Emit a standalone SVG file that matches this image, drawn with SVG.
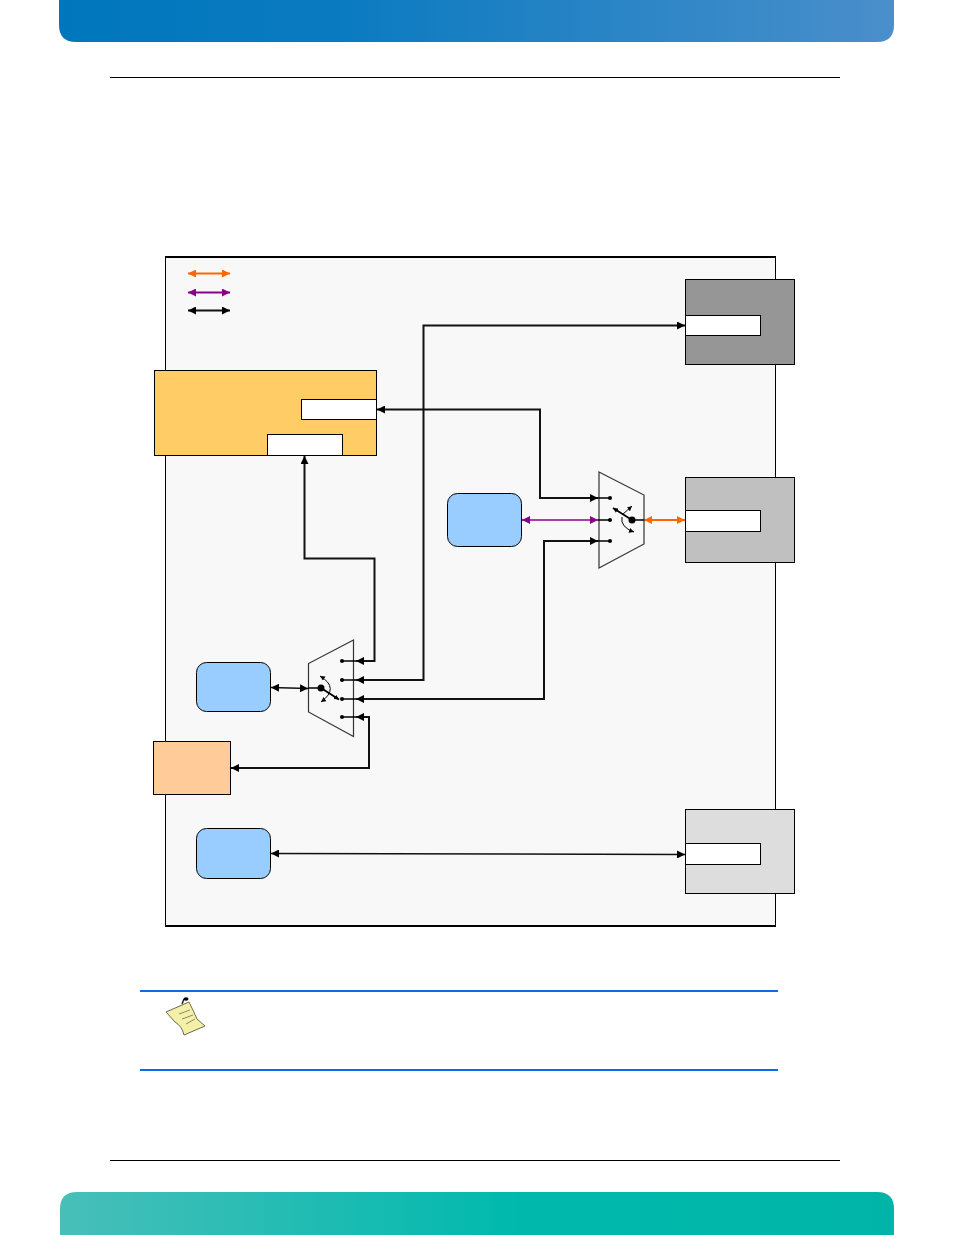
<svg xmlns="http://www.w3.org/2000/svg" width="954" height="1235" viewBox="0 0 954 1235">
<style>
.n{stroke:#000;stroke-width:1}
.w{fill:#fff;stroke:#000;stroke-width:1}
.c{fill:none;stroke:#111;stroke-width:2}
.sw{fill:none;stroke:#333;stroke-width:1.200}
</style>
<defs>
<linearGradient id="hg" x1="0" y1="0" x2="1" y2="0"><stop offset="0" stop-color="#0077bd"/><stop offset=".33" stop-color="#0a7ac0"/><stop offset="1" stop-color="#4a8fcb"/></linearGradient>
<linearGradient id="fg" x1="0" y1="0" x2="1" y2="0"><stop offset="0" stop-color="#48bfb9"/><stop offset=".55" stop-color="#00b9ad"/><stop offset="1" stop-color="#00b5a7"/></linearGradient>
<marker id="ak" viewBox="0 0 8 8" refX="8" refY="4" markerWidth="8" markerHeight="8" markerUnits="userSpaceOnUse" orient="auto-start-reverse"><path d="M0 0L8 4L0 8z" fill="#000"/></marker>
<marker id="ao" viewBox="0 0 8 8" refX="8" refY="4" markerWidth="8" markerHeight="8" markerUnits="userSpaceOnUse" orient="auto-start-reverse"><path d="M0 0L8 4L0 8z" fill="#f60"/></marker>
<marker id="ap" viewBox="0 0 8 8" refX="8" refY="4" markerWidth="8" markerHeight="8" markerUnits="userSpaceOnUse" orient="auto-start-reverse"><path d="M0 0L8 4L0 8z" fill="#808"/></marker>
<marker id="as" viewBox="0 0 6 6" refX="6" refY="3" markerWidth="5" markerHeight="5" markerUnits="userSpaceOnUse" orient="auto-start-reverse"><path d="M0 0L6 3L0 6z" fill="#000"/></marker>
</defs>
<g id="header"><path d="M59 0H894V25Q894 42 877 42H76Q59 42 59 25Z" fill="url(#hg)"/><rect x="110" y="77" width="730" height="1" fill="#000"/></g>
<g id="footer"><rect x="110" y="1160" width="730" height="1" fill="#000"/><path d="M60 1235V1209Q60 1192 77 1192H877Q894 1192 894 1209V1235Z" fill="url(#fg)"/></g>
<g id="board"><rect x="165.500" y="257" width="610" height="669" fill="#f8f8f8" stroke="#000" stroke-width="1"/><path d="M165 257H776M165 926H776" stroke="#000" stroke-width="2"/></g>
<g id="connectors">
<path class="c" d="M685 325.500H423.500V680H356" marker-start="url(#ak)" marker-end="url(#ak)"/>
<path class="c" d="M598 498H540V409.500H377" marker-start="url(#ak)" marker-end="url(#ak)"/>
<path class="c" d="M598 541H544V699H356" marker-start="url(#ak)" marker-end="url(#ak)"/>
<path class="c" d="M356 661H374.500V558.500H304.500V456" marker-start="url(#ak)" marker-end="url(#ak)"/>
<path class="c" d="M356 717H369V768H231" marker-start="url(#ak)" marker-end="url(#ak)"/>
<path d="M271 687.500L308 688.500" fill="none" stroke="#111" stroke-width="1.500" marker-start="url(#ak)" marker-end="url(#ak)"/>
<path d="M271 853.500L685 854.500" fill="none" stroke="#111" stroke-width="1.500" marker-start="url(#ak)" marker-end="url(#ak)"/>
<path d="M522 520H598" fill="none" stroke="#808" stroke-width="1.500" marker-start="url(#ap)" marker-end="url(#ap)"/>
<path d="M644 520H685" fill="none" stroke="#f60" stroke-width="2" marker-start="url(#ao)" marker-end="url(#ao)"/>
<path d="M188 273.500H230" fill="none" stroke="#f60" stroke-width="2" marker-start="url(#ao)" marker-end="url(#ao)"/>
<path d="M188 292.500H230" fill="none" stroke="#808" stroke-width="2" marker-start="url(#ap)" marker-end="url(#ap)"/>
<path d="M188 310.500H230" fill="none" stroke="#111" stroke-width="2" marker-start="url(#ak)" marker-end="url(#ak)"/>
</g>
<g id="cpu"><rect class="n" x="154.500" y="370.500" width="222" height="85" fill="#fc6"/><rect class="w" x="301.500" y="399.500" width="75" height="20"/><rect class="w" x="267.500" y="434.500" width="75" height="21"/></g>
<g id="conn-top"><rect class="n" x="685.500" y="279.500" width="109" height="85" fill="#969696"/><rect class="w" x="685.500" y="315.500" width="75" height="20"/></g>
<g id="conn-mid"><rect class="n" x="685.500" y="477.500" width="109" height="85" fill="#c0c0c0"/><rect class="w" x="685.500" y="510.500" width="75" height="21"/></g>
<g id="conn-bot"><rect class="n" x="685.500" y="809.500" width="109" height="84" fill="#ddd"/><rect class="w" x="685.500" y="843.500" width="75" height="21"/></g>
<g id="blue-mid"><rect class="n" x="447.500" y="493.500" width="74" height="53" rx="10" fill="#9cf"/></g>
<g id="blue-left"><rect class="n" x="196.500" y="662.500" width="74" height="49" rx="10" fill="#9cf"/></g>
<g id="blue-bot"><rect class="n" x="196.500" y="828.500" width="74" height="50" rx="10" fill="#9cf"/></g>
<g id="peach"><rect class="n" x="153.500" y="741.500" width="77" height="53" fill="#fc9"/></g>
<g id="mux-right">
<path class="sw" d="M599 472L644 495V544L599 568Z"/>
<g stroke="#000" fill="none">
<path d="M598 498H610M598 520H610M598 541H610M632 520H644" stroke-width="1.500"/>
<path d="M632 520L613 508" stroke-width="1.800" marker-end="url(#as)"/>
<path d="M622 515L632 506" stroke-width="1" marker-end="url(#as)"/>
<path d="M622 517Q620 527 634 532" stroke-width="1" marker-end="url(#as)"/>
</g>
<circle cx="610" cy="498" r="2"/><circle cx="610" cy="520" r="2"/><circle cx="610" cy="541" r="2"/><circle cx="632" cy="520" r="3.500"/>
</g>
<g id="mux-left">
<path class="sw" d="M353.500 640L308.500 663.500V712L353.500 736.500Z"/>
<g stroke="#000" fill="none">
<path d="M308 688H321M342 661H356M342 680H356M342 699H356M342 717H356" stroke-width="1.500"/>
<path d="M321 688L339 699.500" stroke-width="2" marker-end="url(#as)"/>
<path d="M320 676Q340 688 321 702" stroke-width="1" marker-start="url(#as)" marker-end="url(#as)"/>
</g>
<circle cx="342" cy="661" r="2"/><circle cx="342" cy="680" r="2"/><circle cx="342" cy="699" r="2"/><circle cx="342" cy="717" r="2"/><circle cx="321" cy="688" r="3.500"/>
</g>
<g id="note">
<rect x="140" y="990" width="638" height="2" fill="#0a6be8"/>
<rect x="140" y="1069" width="638" height="2" fill="#0a6be8"/>
<path d="M166 1012L189 1002Q194 1012 197 1019L205 1026L184 1035Q182 1026 175 1022Z" fill="#f5f0a8" stroke="#6a6a50" stroke-width="1"/>
<path d="M182 1004L184 999" fill="none" stroke="#222" stroke-width="1.500"/>
<ellipse cx="186" cy="999" rx="2.500" ry="1.800" fill="#000"/>
<path d="M179 1014L190 1010M182 1019L193 1015M186 1024L195 1019" stroke="#8a8a70" stroke-width="1"/>
</g>
</svg>
